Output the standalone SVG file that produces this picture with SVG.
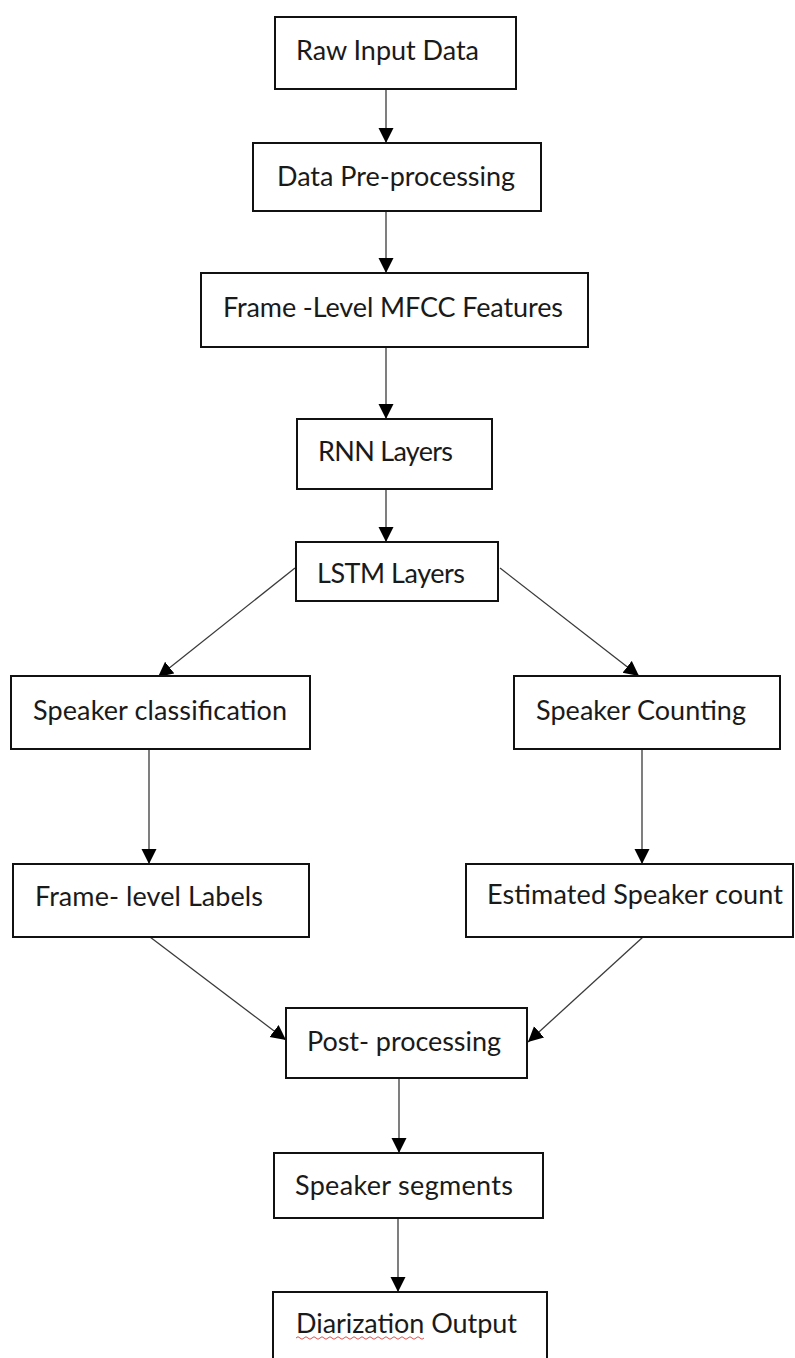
<svg xmlns="http://www.w3.org/2000/svg" width="795" height="1358" viewBox="0 0 795 1358">
<style>
.box{fill:#fff;stroke:#111;stroke-width:2}
.lbl{font-family:Lato,"Liberation Sans",sans-serif;font-size:27px;fill:#1a1a1a}
.edge{stroke:#3a3a3a;stroke-width:1.3;fill:none;marker-end:url(#arr)}
</style>
<defs>
<marker id="arr" markerUnits="userSpaceOnUse" markerWidth="17" markerHeight="17" refX="15" refY="7.5" orient="auto">
<path d="M0,0 L15,7.5 L0,15 Z" fill="#000"/>
</marker>
</defs>
<rect width="795" height="1358" fill="#fff"/>
<g id="connectors">
<line class="edge" x1="386" y1="89" x2="386" y2="143"/>
<line class="edge" x1="386" y1="211" x2="386" y2="273"/>
<line class="edge" x1="386" y1="347" x2="386" y2="419"/>
<line class="edge" x1="386" y1="489" x2="386" y2="542"/>
<line class="edge" x1="295" y1="568" x2="158" y2="677"/>
<line class="edge" x1="500" y1="568" x2="639" y2="676"/>
<line class="edge" x1="149" y1="749" x2="149" y2="864"/>
<line class="edge" x1="642" y1="749" x2="642" y2="864"/>
<line class="edge" x1="150" y1="937" x2="286" y2="1040"/>
<line class="edge" x1="643" y1="937" x2="528" y2="1042"/>
<line class="edge" x1="399" y1="1079" x2="399" y2="1153"/>
<line class="edge" x1="398" y1="1218" x2="398" y2="1292"/>
</g>
<g id="n1"><rect class="box" x="275" y="17" width="241" height="72"/><text class="lbl" x="296" y="60" textLength="183">Raw Input Data</text></g>
<g id="n2"><rect class="box" x="253" y="143" width="288" height="68"/><text class="lbl" x="277" y="186" textLength="238">Data Pre-processing</text></g>
<g id="n3"><rect class="box" x="201" y="273" width="387" height="74"/><text class="lbl" x="223" y="317" textLength="340">Frame -Level MFCC Features</text></g>
<g id="n4"><rect class="box" x="297" y="419" width="195" height="70"/><text class="lbl" x="318" y="461" textLength="135">RNN Layers</text></g>
<g id="n5"><rect class="box" x="296" y="542" width="202" height="59"/><text class="lbl" x="317" y="583" textLength="148">LSTM Layers</text></g>
<g id="n6"><rect class="box" x="11" y="676" width="299" height="73"/><text class="lbl" x="33" y="720" textLength="254">Speaker classification</text></g>
<g id="n7"><rect class="box" x="514" y="676" width="266" height="73"/><text class="lbl" x="536" y="720" textLength="210">Speaker Counting</text></g>
<g id="n8"><rect class="box" x="13" y="864" width="296" height="73"/><text class="lbl" x="35" y="906" textLength="228">Frame- level Labels</text></g>
<g id="n9"><rect class="box" x="466" y="864" width="327" height="73"/><text class="lbl" x="487" y="904" textLength="296">Estimated Speaker count</text></g>
<g id="n10"><rect class="box" x="286" y="1008" width="241" height="70"/><text class="lbl" x="307" y="1051" textLength="194">Post- processing</text></g>
<g id="n11"><rect class="box" x="274" y="1153" width="269" height="65"/><text class="lbl" x="295" y="1195" textLength="218">Speaker segments</text></g>
<g id="n12"><rect class="box" x="273" y="1292" width="274" height="80"/><text class="lbl" x="296" y="1333" textLength="221">Diarization Output</text>
<path d="M296,1338 q2,-2.5 4,0 t4,0 t4,0 t4,0 t4,0 t4,0 t4,0 t4,0 t4,0 t4,0 t4,0 t4,0 t4,0 t4,0 t4,0 t4,0 t4,0 t4,0 t4,0 t4,0 t4,0 t4,0 t4,0 t4,0 t4,0 t4,0 t4,0 t4,0 t4,0 t4,0 t4,0 t4,0" fill="none" stroke="#d9534f" stroke-width="1"/></g>
</svg>
